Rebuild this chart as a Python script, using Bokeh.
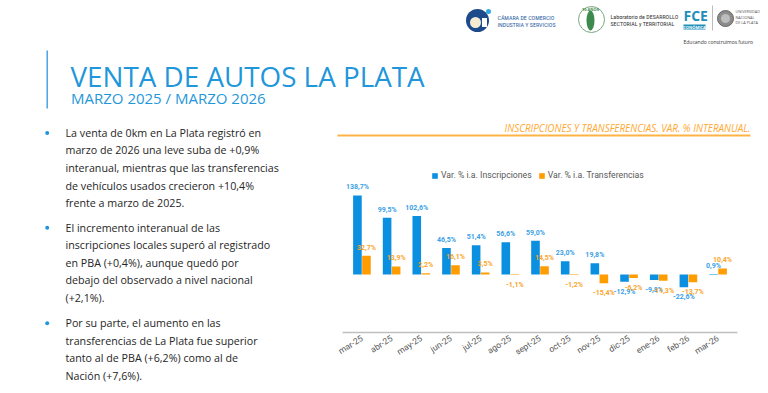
from bokeh.plotting import figure
from bokeh.models import (ColumnDataSource, FactorRange, Range1d, Legend, LegendItem, LabelSet)
from bokeh.layouts import column, row
from bokeh.embed import file_html
from bokeh.resources import INLINE
from bokeh.core.properties import value
from bokeh.transform import dodge

# ---------------- data ----------------
months = ["mar-25", "abr-25", "may-25", "jun-25", "jul-25", "ago-25", "sept-25",
          "oct-25", "nov-25", "dic-25", "ene-26", "feb-26", "mar-26"]
inscripciones = [138.7, 99.5, 102.6, 46.5, 51.4, 56.6, 59.0, 23.0, 19.8, -12.9, -9.8, -22.6, 0.9]
transferencias = [32.7, 13.9, 2.2, 16.1, 3.5, -1.1, 14.5, -1.2, -15.4, -6.2, -11.3, -13.7, 10.4]
series_names = ["Var. % i.a. Inscripciones", "Var. % i.a. Transferencias"]

title = "VENTA DE AUTOS LA PLATA"
subtitle = "MARZO 2025 / MARZO 2026"
chart_title = "INSCRIPCIONES Y TRANSFERENCIAS. VAR. % INTERANUAL."
bullets = [
    ["La venta de 0km en La Plata registró en",
     "marzo de 2026 una leve suba de +0,9%",
     "interanual, mientras que las transferencias",
     "de vehículos usados crecieron +10,4%",
     "frente a marzo de 2025."],
    ["El incremento interanual de las",
     "inscripciones locales superó al registrado",
     "en PBA (+0,4%), aunque quedó por",
     "debajo del observado a nivel nacional",
     "(+2,1%)."],
    ["Por su parte, el aumento en las",
     "transferencias de La Plata fue superior",
     "tanto al de PBA (+6,2%) como al de",
     "Nación (+7,6%)."],
]

BLUE = "#0b8fe0"
ORANGE = "#ff9c00"
BLUE_LBL = "#3aa1e6"
ORANGE_LBL = "#fba52a"
TITLE_BLUE = "#1f97da"
FONT = "Open Sans"


def blank(w, h, x0, x1, y0, y1):
    f = figure(width=w, height=h, x_range=Range1d(x0, x1), y_range=Range1d(y1, y0),
               output_backend="svg", toolbar_location=None,
               x_axis_location=None, y_axis_location=None, min_border=0,
               frame_align=False)
    f.outline_line_color = None
    f.grid.visible = False
    f.background_fill_color = "white"
    f.border_fill_color = "white"
    return f


# ---------------- header (page X 0..760, Y 0..115) ----------------
hd = blank(760, 115, 0, 760, 0, 115)

# logos (approximate)
hd.circle(x=[477], y=[20], radius=11.5, fill_color="#1d4a8a", line_color=None)
hd.circle(x=[475], y=[22], radius=5.5, fill_color="#f3ecd2", line_color=None)
hd.rect(x=[484], y=[22], width=5, height=9, fill_color="white", line_color=None)
hd.circle(x=[488], y=[11], radius=2.5, fill_color="#2fa8e0", line_color=None)
hd.text(x=[497, 497], y=[17, 24], text=["CÁMARA DE COMERCIO", "INDUSTRIA Y SERVICIOS"],
        text_font=value("Roboto Condensed"), text_font_size="6px", text_color="#2a5d9f",
        text_baseline="middle")
hd.circle(x=[591], y=[19], radius=13, fill_color=None, line_color="#7aa67d", line_width=1)
hd.ellipse(x=[590], y=[20], width=8, height=20, fill_color="#3d8a4e", line_color=None)
hd.text(x=[590], y=[8.5], text=["10 AÑOS"], text_font=value(FONT), text_font_size="4px",
        text_color="#3d8a4e", text_align="center", text_baseline="middle", text_font_style="bold")
hd.text(x=[610, 610], y=[16, 23], text=["Laboratorio de DESARROLLO", "SECTORIAL y TERRITORIAL"],
        text_font=value("Roboto Condensed"), text_font_size="6px", text_color="#333333",
        text_baseline="middle")
hd.text(x=[683], y=[15], text=["FCE"], text_font=value(FONT), text_font_size="14px",
        text_font_style="bold", text_color="#1f8fb8", text_baseline="middle")
hd.rect(x=[694], y=[26.5], width=22, height=5, fill_color="#1f8fb8", line_color=None)
hd.text(x=[694], y=[26.7], text=["ECONÓMICAS"], text_font=value(FONT), text_font_size="4px",
        text_color="white", text_align="center", text_baseline="middle", text_font_style="bold")
hd.segment(x0=[712], y0=[5], x1=[712], y1=[30], line_color="#bbbbbb", line_width=1)
hd.circle(x=[725], y=[18], radius=8, fill_color="#8c8c8c", line_color="#666666")
hd.circle(x=[725], y=[18], radius=4.5, fill_color="#bdbdbd", line_color=None)
hd.text(x=[735, 735, 735], y=[11, 16.5, 22], text=["UNIVERSIDAD", "NACIONAL", "DE LA PLATA"],
        text_font=value(FONT), text_font_size="3.8px", text_color="#555555", text_baseline="middle")
hd.text(x=[683], y=[41], text=["Educando construimos futuro"], text_font=value(FONT),
        text_font_size="5px", text_color="#333333", text_baseline="middle")

# title block
hd.segment(x0=[46.7], y0=[50], x1=[46.7], y1=[108], line_color="#4aa3e2", line_width=1.5)
hd.text(x=[70], y=[75.4], text=[title], text_font=value(FONT), text_font_size="27.8px",
        text_color=TITLE_BLUE, text_baseline="middle")
hd.text(x=[70.5], y=[97.8], text=[subtitle], text_font=value(FONT), text_font_size="15px",
        text_color=TITLE_BLUE, text_baseline="middle")

# ---------------- text panel (page X 0..330, Y 115..385) ----------------
tx = blank(330, 270, 0, 330, 115, 385)
para_top = [132.4, 227.3, 322.7]
step = 17.55
xs, ys, ts = [], [], []
for top, lines in zip(para_top, bullets):
    for i, ln in enumerate(lines):
        xs.append(65)
        ys.append(top + i * step)
        ts.append(ln)
tx.text(x=xs, y=ys, text=ts, text_font=value(FONT), text_font_size="10.7px",
        text_color="#262626", text_baseline="middle")
tx.scatter(x=[46.7] * 3, y=para_top, size=4, marker="circle", fill_color=TITLE_BLUE, line_color=None)

# ---------------- chart heading (page X 330..760, Y 115..150) ----------------
ch = blank(430, 35, 330, 760, 115, 150)
ch.text(x=[750], y=[127.6], text=[chart_title], text_font=value(FONT), text_font_size="9.9px",
        text_font_style="italic", text_color="#ffa830", text_align="right",
        text_baseline="middle")
ch.segment(x0=[337], y0=[135], x1=[750], y1=[135], line_color="#ffb347", line_width=2)

# ---------------- chart (page X 330..760, Y 150..385) ----------------
src = ColumnDataSource(dict(month=months, ins=inscripciones, tra=transferencias))

p = figure(width=430, height=235,
           x_range=FactorRange(factors=months, range_padding=0.155, range_padding_units="absolute"),
           y_range=Range1d(-102, 200), output_backend="svg", toolbar_location=None,
           y_axis_location=None, min_border_left=12, min_border_right=23,
           min_border_top=10, min_border_bottom=53, frame_align=False)
p.outline_line_color = None
p.grid.visible = False
p.background_fill_color = "white"
p.border_fill_color = "white"

OFF = 0.152
r1 = p.vbar(x=dodge("month", -OFF, range=p.x_range), top="ins", bottom=0, width=0.29,
            source=src, fill_color=BLUE, line_color=None)
r2 = p.vbar(x=dodge("month", OFF, range=p.x_range), top="tra", bottom=0, width=0.29,
            source=src, fill_color=ORANGE, line_color=None)


def fmt(v):
    return f"{v:.1f}%".replace(".", ",")


def add_labels(vals, off, color):
    pos = dict(month=[], v=[], t=[])
    neg = dict(month=[], v=[], t=[])
    for m, v in zip(months, vals):
        d = pos if v >= 0 else neg
        d["month"].append(m)
        d["v"].append(v)
        d["t"].append(fmt(v))
    for d, base, yo in ((pos, "alphabetic", 6), (neg, "top", -6)):
        ls = LabelSet(x=dodge("month", off, range=p.x_range), y="v", text="t",
                      source=ColumnDataSource(d), text_align="center", text_baseline=base,
                      y_offset=yo, text_font=value("Roboto"), text_font_size="7px",
                      text_font_style="bold", text_color=color)
        p.add_layout(ls)


add_labels(inscripciones, -OFF, BLUE_LBL)
add_labels(transferencias, OFF, ORANGE_LBL)

legend = Legend(items=[LegendItem(label=series_names[0], renderers=[r1]),
                       LegendItem(label=series_names[1], renderers=[r2])],
                orientation="horizontal", location=(89, 152),
                glyph_width=7, glyph_height=7, label_height=9, label_standoff=3, spacing=6,
                padding=0, margin=0, border_line_color=None, background_fill_alpha=0,
                label_text_font="Roboto", label_text_font_size="8.7px",
                label_text_color="#595959")
p.add_layout(legend)

ax = p.xaxis[0]
ax.axis_line_color = "#bfbfbf"
ax.axis_line_width = 1.5
ax.major_tick_line_color = None
ax.minor_tick_line_color = None
ax.major_tick_out = 0
ax.major_tick_in = 0
ax.major_label_orientation = 0.56
ax.major_label_standoff = 5
ax.major_label_text_font = "Roboto"
ax.major_label_text_font_size = "8.5px"
ax.major_label_text_color = "#595959"

layout = column(hd, row(tx, column(ch, p, spacing=0), spacing=0), spacing=0)

open("out.html", "w").write(file_html(layout, INLINE))
